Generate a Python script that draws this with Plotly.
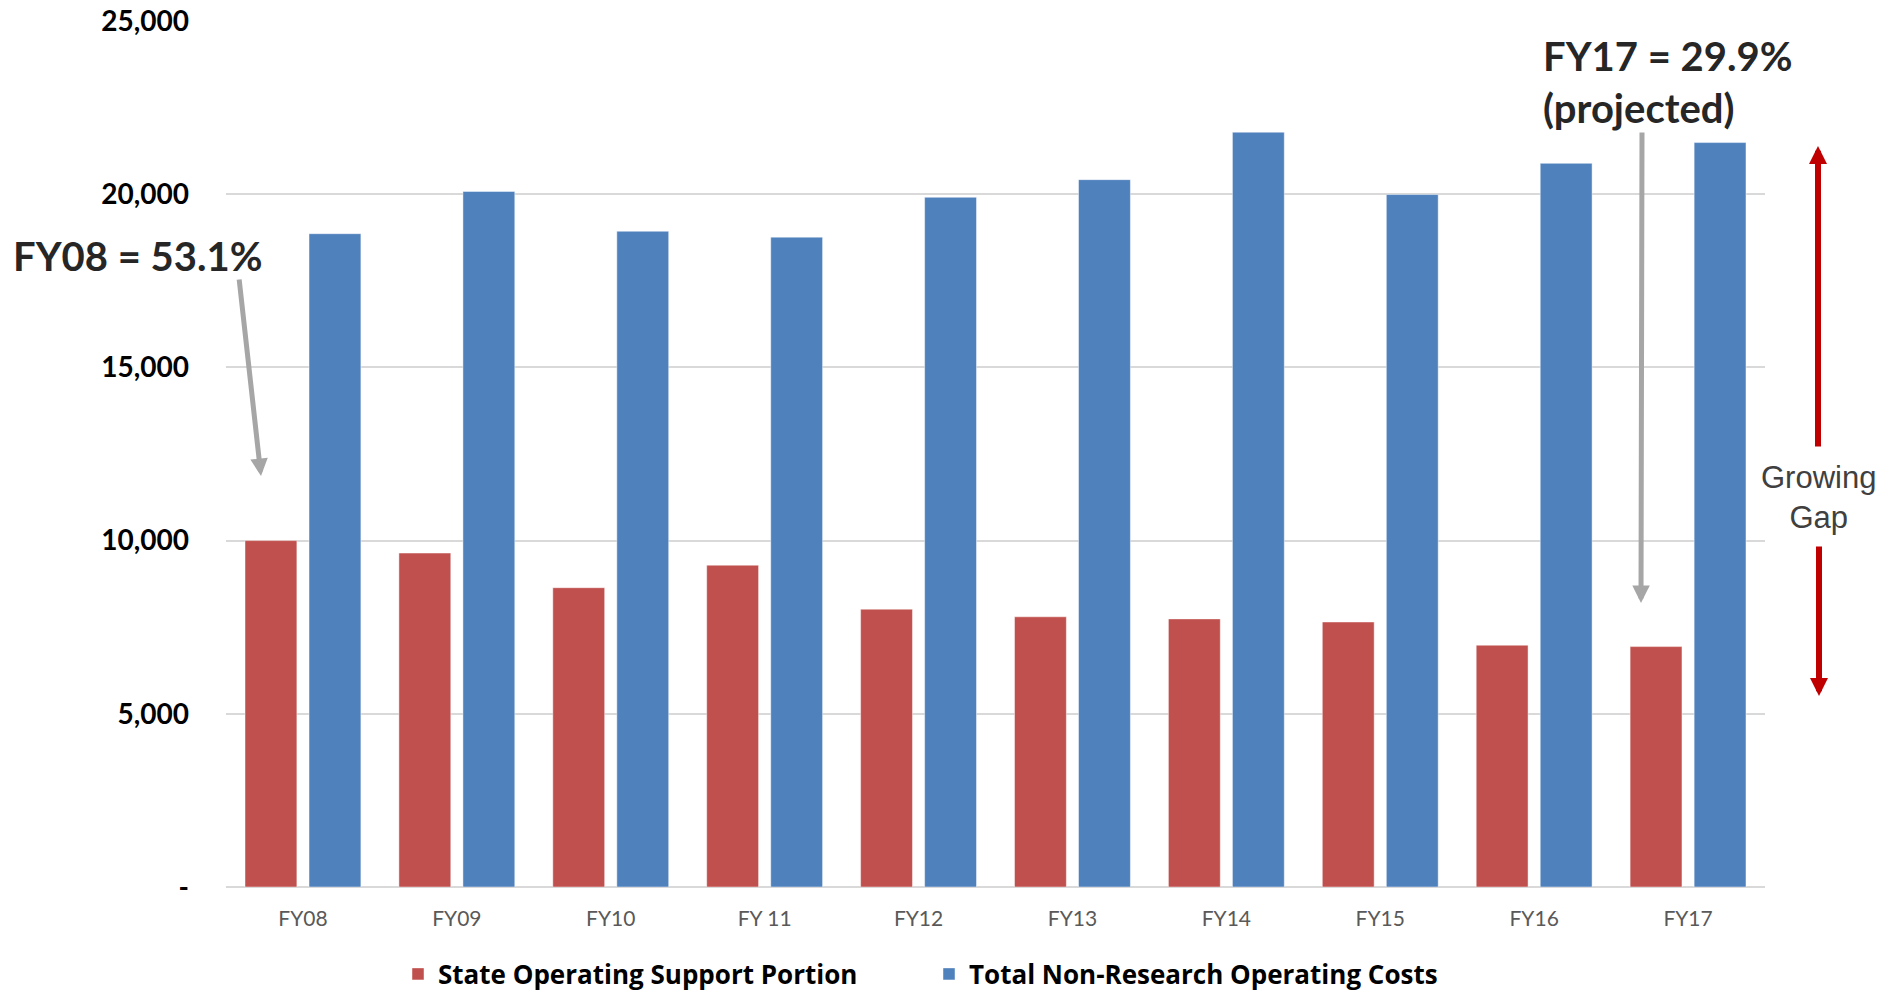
import plotly.graph_objects as go

# Fiscal years and operating figures
years = ["FY08", "FY09", "FY10", "FY 11", "FY12", "FY13", "FY14", "FY15", "FY16", "FY17"]
state_support = [10000, 9640, 8640, 9290, 8020, 7800, 7740, 7650, 6980, 6940]
total_costs = [18860, 20080, 18930, 18760, 19910, 20420, 21790, 19990, 20890, 21490]

y_tickvals = [0, 5000, 10000, 15000, 20000, 25000]
y_ticktext = ["-", "5,000", "10,000", "15,000", "20,000", "25,000"]

RED = "#C0504D"
BLUE = "#4F81BD"
GRID = "#D9D9D9"
ARROW_GRAY = "#A6A6A6"
GAP_RED = "#C00000"

W, H = 1887, 992
L, R, T, B = 226, 122, 21, 105
PW, PH = W - L - R, H - T - B


def px(x):
    return (x - L) / PW


def py(y):
    return (H - B - y) / PH


fig = go.Figure()
fig.add_trace(go.Bar(
    x=years, y=state_support, name="State Operating Support Portion",
    marker=dict(color=RED, line=dict(color="rgba(255,255,255,0.45)", width=1)),
))
fig.add_trace(go.Bar(
    x=years, y=total_costs, name="Total Non-Research Operating Costs",
    marker=dict(color=BLUE, line=dict(color="rgba(255,255,255,0.45)", width=1)),
))

annotations = [
    dict(text="FY08 = 53.1%", x=px(11), y=py(256), xref="paper", yref="paper",
         xanchor="left", yanchor="middle", showarrow=False,
         font=dict(family="Lato", size=40, color="#262626", weight="bold")),
    dict(text="FY17 = 29.9%<br>(projected)", x=px(1541), y=py(82), xref="paper", yref="paper",
         xanchor="left", yanchor="middle", align="left", showarrow=False,
         font=dict(family="Lato", size=40, color="#262626", weight="bold")),
    dict(text="Growing<br>Gap", x=px(1818), y=py(497), xref="paper", yref="paper",
         xanchor="center", yanchor="middle", align="center", showarrow=False,
         font=dict(family="Liberation Sans", size=31, color="#404040")),
    # pointer arrows
    dict(text="", x=px(261), y=py(476), xref="paper", yref="paper",
         ax=-22, ay=-198, showarrow=True, arrowhead=2, arrowsize=0.7,
         arrowwidth=5, arrowcolor=ARROW_GRAY),
    dict(text="", x=px(1641), y=py(603), xref="paper", yref="paper",
         ax=1, ay=-472, showarrow=True, arrowhead=2, arrowsize=0.7,
         arrowwidth=5, arrowcolor=ARROW_GRAY),
    # growing gap arrows
    dict(text="", x=px(1818), y=py(146), xref="paper", yref="paper",
         ax=0, ay=302, showarrow=True, arrowhead=2, arrowsize=0.6,
         arrowwidth=6, arrowcolor=GAP_RED),
    dict(text="", x=px(1819), y=py(696), xref="paper", yref="paper",
         ax=0, ay=-151, showarrow=True, arrowhead=2, arrowsize=0.6,
         arrowwidth=6, arrowcolor=GAP_RED),
]

fig.update_layout(
    width=W, height=H,
    margin=dict(l=L, r=R, t=T, b=B, autoexpand=False),
    paper_bgcolor="white", plot_bgcolor="white",
    barmode="group", bargap=0.168, bargroupgap=0.19,
    showlegend=True,
    legend=dict(orientation="h", x=px(398), y=py(974), xref="paper", yref="paper",
                xanchor="left", yanchor="middle",
                entrywidth=486, entrywidthmode="pixels",
                font=dict(family="Open Sans", size=26, color="#000000", weight="bold"),
                bgcolor="rgba(0,0,0,0)", itemclick=False),
    annotations=annotations,
    xaxis=dict(
        showgrid=False, showline=False, zeroline=False,
        tickfont=dict(family="Lato", size=21, color="#595959"),
        ticks="", ticklabelstandoff=17,
    ),
    yaxis=dict(
        range=[0, 25000], tickvals=y_tickvals, ticktext=y_ticktext,
        showgrid=True, gridcolor=GRID, gridwidth=2,
        zeroline=True, zerolinecolor=GRID, zerolinewidth=2,
        showline=False, ticks="",
        tickfont=dict(family="Lato", size=28, color="#000000", weight="bold"),
        ticklabelstandoff=36,
    ),
)

fig.write_html("out.html")
